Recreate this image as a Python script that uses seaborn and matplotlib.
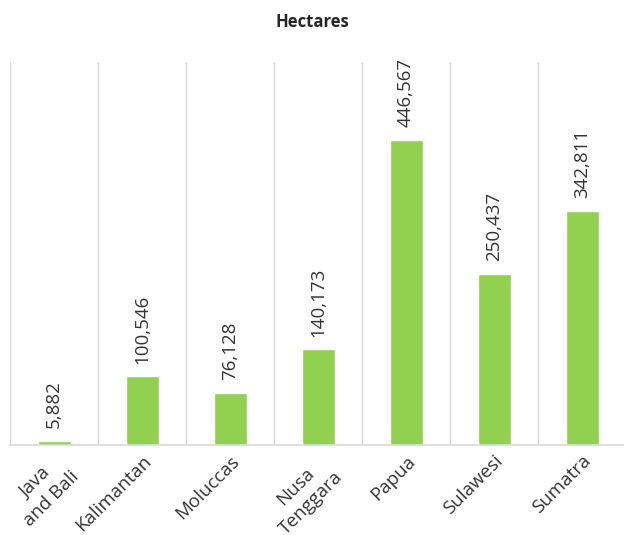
import matplotlib
matplotlib.use("Agg")
import matplotlib.pyplot as plt
import seaborn as sns
import pandas as pd

regions = ["Java\nand Bali", "Kalimantan", "Moluccas", "Nusa\nTenggara", "Papua", "Sulawesi", "Sumatra"]
hectares = [5882, 100546, 76128, 140173, 446567, 250437, 342811]

sns.set_theme(style="white")
plt.rcParams["font.family"] = ["Open Sans", "DejaVu Sans"]

df = pd.DataFrame({"region": regions, "hectares": hectares})

fig = plt.figure(figsize=(6.24, 5.35), dpi=100)
ax = fig.add_axes([10 / 624, 1 - 445 / 535, 616 / 624, 383 / 535])

sns.barplot(data=df, x="region", y="hectares", color="#92D050", width=0.375,
            saturation=1, ax=ax)

ax.set_ylim(0, 560000)
ax.set_xlim(-0.5, len(regions) - 0.5)

# category separators
ax.set_xticks([i - 0.5 for i in range(len(regions) + 1)], minor=True)
ax.grid(axis="x", which="minor", color="#d9d9d9", linewidth=1)
ax.grid(axis="x", which="major", visible=False)
ax.set_yticks([])
ax.tick_params(axis="x", which="both", length=0, pad=5)

for s in ["top", "right", "left"]:
    ax.spines[s].set_visible(False)
ax.spines["bottom"].set_color("#d9d9d9")
ax.spines["bottom"].set_linewidth(1.2)

ax.set_xticks(range(len(regions)))
ax.set_xticklabels(regions, rotation=45, ha="right", rotation_mode="anchor",
                   fontsize=13.5, color="#333333", multialignment="center",
                   linespacing=1.3)
ax.set_xlabel("")
ax.set_ylabel("")

for i, v in enumerate(hectares):
    ax.annotate(f"{v:,}", (i, v), xytext=(0, 9), textcoords="offset points",
                rotation=90, ha="center", va="bottom", fontsize=13.5, color="#333333")

fig.text(0.5, 1 - 22 / 535, "Hectares", ha="center", va="center",
         fontsize=12, fontweight="bold", color="#262626")

fig.savefig("out.png", dpi=100)
